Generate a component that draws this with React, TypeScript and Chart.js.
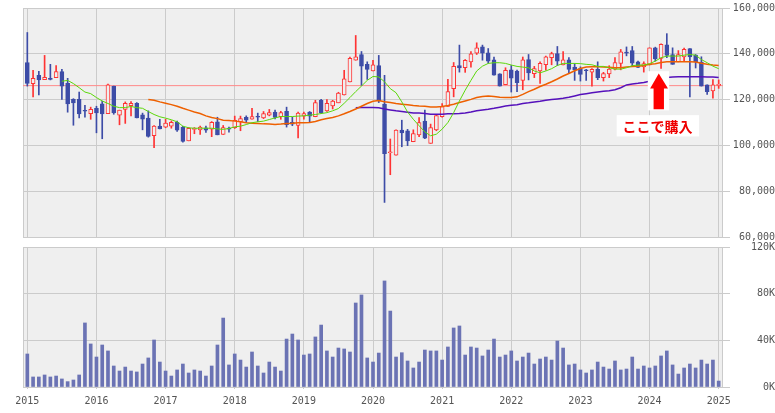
import React, { useEffect, useRef } from 'react';
import { Chart, registerables } from 'chart.js';
Chart.register(...registerables);

// ---- data (monthly, index 0 = 2015-01 ... 120 = 2025-01) ----
const yearLabels = ['2015', '2016', '2017', '2018', '2019', '2020', '2021', '2022', '2023', '2024', '2025'];

const openP = [
  136200, 127000, 130600, 128700, 129300, 129600, 132200, 127100, 120100, 120100, 115200, 113900,
  116200, 118100, 113900, 125900, 113200, 115700, 117400, 118400, 113300, 111900, 104200, 108400,
  108000, 108400, 110100, 108000, 102000, 107000, 106800, 107700, 107100, 110300, 104800, 107500,
  107700, 110400, 112300, 111400, 112600, 112000, 113200, 114500, 112500, 114900, 110100, 108700,
  112800, 114500, 112500, 119700, 115100, 117200, 118600, 122000, 127700, 137200, 139700, 135400,
  132500, 134900, 118000, 96800, 95700, 106700, 106400, 101600, 104600, 110600, 100900, 106800,
  112500, 117000, 124800, 134900, 133900, 136500, 140300, 143000, 140400, 137400, 131300, 126500,
  133000, 132500, 128400, 137500, 131300, 132500, 135200, 138300, 140100, 135100, 137400, 134200,
  133600, 132900, 132000, 133200, 129600, 131200, 133300, 135800, 140700, 141400, 136500, 134300,
  135100, 142600, 138000, 143900, 139700, 136500, 138600, 142300, 139400, 136400, 126500, 123800,
  126200,
];
const highP = [
  149300, 132800, 132300, 139300, 135400, 134900, 133200, 129300, 120400, 123300, 117500, 116700,
  117100, 119300, 126800, 125900, 115400, 119000, 119100, 118700, 114100, 115100, 108700, 111400,
  111400, 110700, 110600, 108300, 107800, 107800, 108400, 108400, 110400, 112300, 108700, 108000,
  112800, 112800, 112900, 116200, 114100, 114800, 115700, 115400, 114900, 116700, 112300, 114500,
  114600, 114800, 119700, 120100, 120000, 119700, 123200, 132800, 138600, 148000, 141000, 136500,
  137100, 139300, 130600, 102800, 106800, 111000, 107000, 106800, 112200, 115400, 109300, 113300,
  118300, 128800, 136200, 143800, 137500, 141000, 144800, 143800, 142300, 138600, 131300, 133900,
  134900, 132900, 138600, 139700, 134500, 136500, 139000, 140700, 143200, 141000, 138400, 135700,
  134300, 133200, 133600, 136500, 131900, 134800, 138300, 141900, 143000, 143200, 136800, 136500,
  142600, 142900, 144300, 148800, 142600, 141400, 142500, 142300, 139700, 138700, 126500, 128700,
  128600,
];
const lowP = [
  125900, 121200, 122000, 128700, 128600, 129600, 120100, 114500, 108800, 112000, 112300, 111400,
  105500, 102900, 113900, 113600, 109000, 109600, 112900, 112000, 106800, 103600, 99000, 107200,
  107700, 107500, 106100, 101400, 102000, 105100, 104800, 105700, 103800, 104600, 104800, 105800,
  107400, 106400, 110000, 111400, 110400, 111700, 112900, 111600, 111400, 108000, 108600, 103300,
  111400, 110000, 112500, 113900, 114800, 115900, 118600, 122000, 127700, 137200, 126200, 128800,
  132500, 118700, 75100, 87200, 95700, 99400, 99900, 101600, 103800, 102900, 100900, 106400,
  112300, 117000, 121200, 132000, 131900, 134200, 139700, 137200, 135900, 130700, 125900, 126500,
  123300, 123500, 124300, 128600, 129600, 127100, 132800, 135200, 134900, 135100, 131600, 128400,
  128100, 128400, 125900, 128700, 128100, 129600, 133000, 133000, 139100, 134600, 133900, 132000,
  135100, 136800, 133600, 138300, 135400, 136500, 136800, 121200, 133800, 125900, 122300, 120600,
  124900,
];
const closeP = [
  127100, 129300, 128600, 129700, 128800, 132200, 125900, 118100, 118600, 113800, 114900, 115700,
  114200, 113800, 126500, 114200, 115400, 118400, 118400, 112000, 111400, 103900, 108400, 107200,
  109700, 110100, 106700, 101700, 107400, 107500, 108000, 106700, 110100, 104600, 107800, 107100,
  111000, 111700, 111000, 112600, 112300, 113900, 114300, 112200, 114300, 109000, 109300, 114100,
  113900, 112800, 118700, 114300, 118400, 119300, 122800, 129100, 138000, 138700, 134600, 133200,
  135200, 119400, 96400, 97200, 106700, 105500, 102000, 105200, 110000, 103200, 107800, 113000,
  117000, 123500, 134500, 133800, 137100, 140000, 142600, 140300, 136800, 130700, 125900, 132800,
  129400, 127400, 137400, 131600, 133500, 135800, 138700, 140100, 136800, 137400, 133200, 133000,
  131000, 132600, 133200, 129600, 131400, 133300, 136200, 140900, 140300, 135900, 134100, 135700,
  142600, 137800, 144100, 139300, 135400, 139700, 141900, 138600, 136400, 125900, 123500, 126500,
  126500,
];
const volume = [
  28300, 8600, 8600, 10300, 8600, 9400, 6900, 4600, 6000, 10300, 54900, 36900,
  25700, 36000, 30900, 18000, 13700, 17100, 13700, 12900, 19700, 24900, 40300, 21400,
  13700, 9400, 14600, 19700, 12000, 14600, 13700, 9400, 18000, 36000, 59100, 18900,
  28300, 23100, 17100, 30000, 18000, 12000, 21400, 17100, 13700, 41100, 45400, 40300,
  27400, 28300, 42900, 53100, 30900, 25700, 33400, 32600, 30000, 72000, 78900, 24900,
  21400, 29100, 90900, 65100, 25700, 29400, 22300, 16300, 21400, 31700, 30900, 30900,
  23100, 34300, 50600, 52300, 27400, 34300, 33400, 26600, 31700, 41100, 25700, 27400,
  30900, 22300, 25700, 29100, 19700, 24000, 25700, 23100, 39400, 33400, 18900, 19700,
  14600, 12000, 14600, 21400, 17100, 15400, 22300, 14600, 15400, 25700, 15400, 18000,
  16300, 18000, 26600, 30900, 18900, 11100, 16300, 19700, 16300, 23100, 19700, 23100,
  5100,
];

// moving averages; each starts at the given month index
const maShortStart = 6;
const maShort = [
  128000, 128400, 127000, 125200, 123300, 122600, 120900, 119400, 118300, 117100, 116500, 116500,
  117000, 116500, 116200, 114800, 113500, 112500, 111900, 111200, 110300, 108400, 107700, 107500,
  107500, 107500, 107500, 107200, 107000, 107400, 108100, 108400, 109100, 109900, 110300, 110600,
  111300, 112000, 112600, 112600, 112600, 112800, 112900, 113200, 113500, 113900, 114300, 115100,
  116100, 118400, 120900, 123500, 125900, 128400, 130100, 129900, 127800, 124800, 123000, 119000,
  114600, 111400, 108600, 105900, 104200, 104900, 107100, 110000, 114300, 119400, 124100, 128400,
  132500, 134600, 135800, 136100, 136100, 135800, 135100, 134500, 134200, 133900, 132500, 131700,
  132500, 133500, 134900, 135800, 135800, 135800, 135700, 135400, 135200, 134500, 134500, 133900,
  133300, 133300, 133900, 134800, 135100, 135100, 135700, 136800, 138300, 139000, 139000, 139000,
  139400, 139700, 139400, 137500, 136100, 134600, 133500,
];
const maMidStart = 21;
const maMid = [
  120000, 119700, 119000, 118400, 117800, 117100, 116200, 115400, 114600, 113900, 112900, 112200,
  111700, 111000, 110900, 110600, 110300, 109900, 109700, 109600, 109400, 109300, 109100, 109300,
  109600, 109700, 109900, 109900, 110000, 110400, 111200, 111700, 112200, 112900, 113800, 114800,
  115900, 117100, 118300, 119300, 119600, 119100, 118700, 118300, 118000, 117700, 117400, 117200,
  117100, 116800, 116800, 117000, 117400, 118000, 118700, 119400, 120100, 120900, 121400, 121600,
  121400, 121000, 120900, 120900, 121200, 122300, 123500, 124500, 125700, 126700, 127800, 129000,
  130300, 131400, 132600, 133600, 134200, 134300, 134300, 134200, 134100, 133900, 133900, 134200,
  134500, 134600, 134900, 135400, 135700, 136200, 136500, 136500, 136500, 136500, 136500, 136400,
  135900, 135400, 135100, 134900,
];
const maLongStart = 57;
const maLong = [
  116400, 116500, 116500, 116500, 116400, 115900, 115500, 115100, 114800, 114500, 114200, 114100,
  113900, 113600, 113600, 113600, 113800, 113800, 113900, 114200, 114600, 115100, 115500, 115800,
  116200, 116700, 117200, 117500, 117800, 118300, 118600, 119000, 119300, 119700, 120000, 120300,
  120600, 121000, 121600, 122200, 122600, 123000, 123300, 123600, 123900, 124300, 125200, 126400,
  126800, 127100, 127500, 128000, 128700, 129300, 129700, 129900, 130000, 130000, 130000, 130000,
  130000, 129900, 129900, 129700,
];
const buyPrice = 126100;
const buyLabel = 'ここで購入';

// annotation placement (in data units: month index / price)
const arrowBoxX = [107.7, 111.4];
const arrowBoxY = [132400, 115300];
const arrowTip = { x: 109.6, y: 131400 };
const arrowHeadX = [108.1, 111.2];
const arrowHeadBaseY = 124800;
const arrowShaftX = [108.7, 110.5];
const arrowShaftBottomY = 115800;
const textBoxX = [102.3, 116.6];
const textBoxY = [113200, 103900];
const textPos = { x: 109.4, y: 108200 };

// ---- styles ----
const BG = '#efefef';
const GRID = '#cbcbcb';
const UP = '#ff3333';
const DOWN = '#3d4ca7';
const VOL = '#6b73b4';
const TICK_FONT = { family: '"DejaVu Sans Mono", monospace', size: 10 };
const TICK_COLOR = '#555';

const frame = {
  id: 'frame',
  beforeDraw(chart: any) {
    const { ctx, chartArea: a } = chart;
    ctx.save();
    ctx.fillStyle = BG;
    ctx.fillRect(a.left, a.top, a.right - a.left, a.bottom - a.top);
    ctx.restore();
  },
  beforeDatasetsDraw(chart: any) {
    const { ctx, chartArea: a } = chart;
    ctx.save();
    ctx.strokeStyle = GRID;
    ctx.lineWidth = 1;
    ctx.strokeRect(a.left + 0.5, a.top + 0.5, a.right - a.left - 1, a.bottom - a.top);
    ctx.restore();
  },
};

const annotation = {
  id: 'annotation',
  afterDraw(chart: any) {
    const { ctx } = chart;
    const x = chart.scales.x;
    const y = chart.scales.y;
    const px = (v: number) => x.getPixelForValue(v);
    const py = (v: number) => y.getPixelForValue(v);
    ctx.save();
    ctx.fillStyle = '#ffffff';
    ctx.fillRect(px(arrowBoxX[0]), py(arrowBoxY[0]), px(arrowBoxX[1]) - px(arrowBoxX[0]), py(arrowBoxY[1]) - py(arrowBoxY[0]));
    ctx.fillRect(px(textBoxX[0]), py(textBoxY[0]), px(textBoxX[1]) - px(textBoxX[0]), py(textBoxY[1]) - py(textBoxY[0]));
    ctx.fillStyle = '#ff0000';
    ctx.beginPath();
    ctx.moveTo(px(arrowTip.x), py(arrowTip.y));
    ctx.lineTo(px(arrowHeadX[1]), py(arrowHeadBaseY));
    ctx.lineTo(px(arrowShaftX[1]), py(arrowHeadBaseY));
    ctx.lineTo(px(arrowShaftX[1]), py(arrowShaftBottomY));
    ctx.lineTo(px(arrowShaftX[0]), py(arrowShaftBottomY));
    ctx.lineTo(px(arrowShaftX[0]), py(arrowHeadBaseY));
    ctx.lineTo(px(arrowHeadX[0]), py(arrowHeadBaseY));
    ctx.closePath();
    ctx.fill();
    ctx.fillStyle = '#ee0000';
    ctx.font = 'bold 14px "Noto Sans CJK JP", sans-serif';
    ctx.textAlign = 'center';
    ctx.textBaseline = 'middle';
    ctx.fillText(buyLabel, px(textPos.x), py(textPos.y));
    ctx.restore();
  },
};

const yearTicks = (s: any) => {
  s.ticks = yearLabels.map((_, k) => ({ value: k * 12 }));
};

const idx = openP.map((_, i) => i);
const isUp = idx.map((i) => closeP[i] >= openP[i]);

export default function App() {
  const topRef = useRef<HTMLCanvasElement>(null);
  const botRef = useRef<HTMLCanvasElement>(null);

  useEffect(() => {
    const xCommon = {
      type: 'linear' as const,
      min: -0.75,
      max: 120.75,
      offset: false,
      afterBuildTicks: yearTicks,
      border: { display: false },
    };

    const top = new Chart(topRef.current!, {
      type: 'bar',
      data: {
        datasets: [
          {
            type: 'line',
            data: maShort.map((v, k) => ({ x: k + maShortStart, y: v })),
            borderColor: '#5cd80a',
            borderWidth: 1,
            pointRadius: 0,
            tension: 0,
            order: 0,
          } as any,
          {
            type: 'line',
            data: maMid.map((v, k) => ({ x: k + maMidStart, y: v })),
            borderColor: '#ee6000',
            borderWidth: 1.5,
            pointRadius: 0,
            tension: 0,
            order: 0,
          },
          {
            type: 'line',
            data: maLong.map((v, k) => ({ x: k + maLongStart, y: v })),
            borderColor: '#5511bb',
            borderWidth: 1.5,
            pointRadius: 0,
            tension: 0,
            order: 0,
          },
          {
            type: 'bar',
            data: idx.map((i) => ({ x: i, y: [openP[i], closeP[i]] })),
            backgroundColor: idx.map((i) => (isUp[i] ? BG : DOWN)),
            borderColor: idx.map((i) => (isUp[i] ? UP : DOWN)),
            borderWidth: 1,
            borderSkipped: false,
            barThickness: 4,
            minBarLength: 1,
            grouped: false,
            order: 1,
          } as any,
          {
            type: 'bar',
            data: idx.map((i) => ({ x: i, y: [lowP[i], highP[i]] })),
            backgroundColor: idx.map((i) => (isUp[i] ? UP : DOWN)),
            borderWidth: 0,
            barThickness: 1,
            grouped: false,
            order: 2,
          } as any,
          {
            type: 'line',
            data: [
              { x: -0.75, y: buyPrice },
              { x: 120.75, y: buyPrice },
            ],
            borderColor: '#ff8a8a',
            borderWidth: 1,
            pointRadius: 0,
            order: 3,
          },
        ],
      },
      options: {
        animation: false,
        responsive: false,
        events: [],
        layout: { padding: { left: 23, top: 8, right: 0, bottom: 0 } },
        plugins: { legend: { display: false }, tooltip: { enabled: false } },
        scales: {
          x: {
            ...xCommon,
            ticks: { display: false },
            grid: { color: GRID, drawTicks: false, offset: false },
            afterFit: (s: any) => {
              s.height = 7;
            },
          },
          y: {
            type: 'linear',
            position: 'right',
            min: 60000,
            max: 160000,
            border: { display: false },
            grid: { color: GRID, tickLength: 7 },
            ticks: {
              stepSize: 20000,
              font: TICK_FONT,
              color: TICK_COLOR,
              padding: 2,
              crossAlign: 'far',
            },
            afterFit: (s: any) => {
              s.width = 52;
            },
          },
        },
      } as any,
      plugins: [frame, annotation],
    });

    const bottom = new Chart(botRef.current!, {
      type: 'bar',
      data: {
        datasets: [
          {
            data: idx.map((i) => ({ x: i, y: volume[i] })),
            backgroundColor: VOL,
            barThickness: 3,
            borderWidth: 0,
          },
        ],
      },
      options: {
        animation: false,
        responsive: false,
        events: [],
        layout: { padding: { left: 23, top: 9, right: 0, bottom: 0 } },
        plugins: { legend: { display: false }, tooltip: { enabled: false } },
        scales: {
          x: {
            ...xCommon,
            grid: { color: GRID, tickLength: 2, offset: false },
            ticks: {
              font: TICK_FONT,
              color: TICK_COLOR,
              padding: 6,
              autoSkip: false,
              maxRotation: 0,
              callback: (v: any) => yearLabels[Math.round(Number(v) / 12)],
            },
            afterFit: (s: any) => {
              s.height = 26;
            },
          },
          y: {
            type: 'linear',
            position: 'right',
            min: 0,
            max: 120000,
            border: { display: false },
            grid: { color: GRID, tickLength: 7 },
            ticks: {
              stepSize: 40000,
              font: TICK_FONT,
              color: TICK_COLOR,
              padding: 2,
              crossAlign: 'far',
              callback: (v: any) => Number(v) / 1000 + 'K',
            },
            afterFit: (s: any) => {
              s.width = 52;
            },
          },
        },
      } as any,
      plugins: [frame],
    });

    return () => {
      top.destroy();
      bottom.destroy();
    };
  }, []);

  return (
    <div style={{ position: 'fixed', left: 0, top: 0, width: 775, height: 413, background: '#ffffff' }}>
      <canvas
        ref={topRef}
        width={775}
        height={245}
        style={{ position: 'absolute', left: 0, top: 0, width: 775, height: 245 }}
      />
      <canvas
        ref={botRef}
        width={775}
        height={175}
        style={{ position: 'absolute', left: 0, top: 238, width: 775, height: 175 }}
      />
    </div>
  );
}
